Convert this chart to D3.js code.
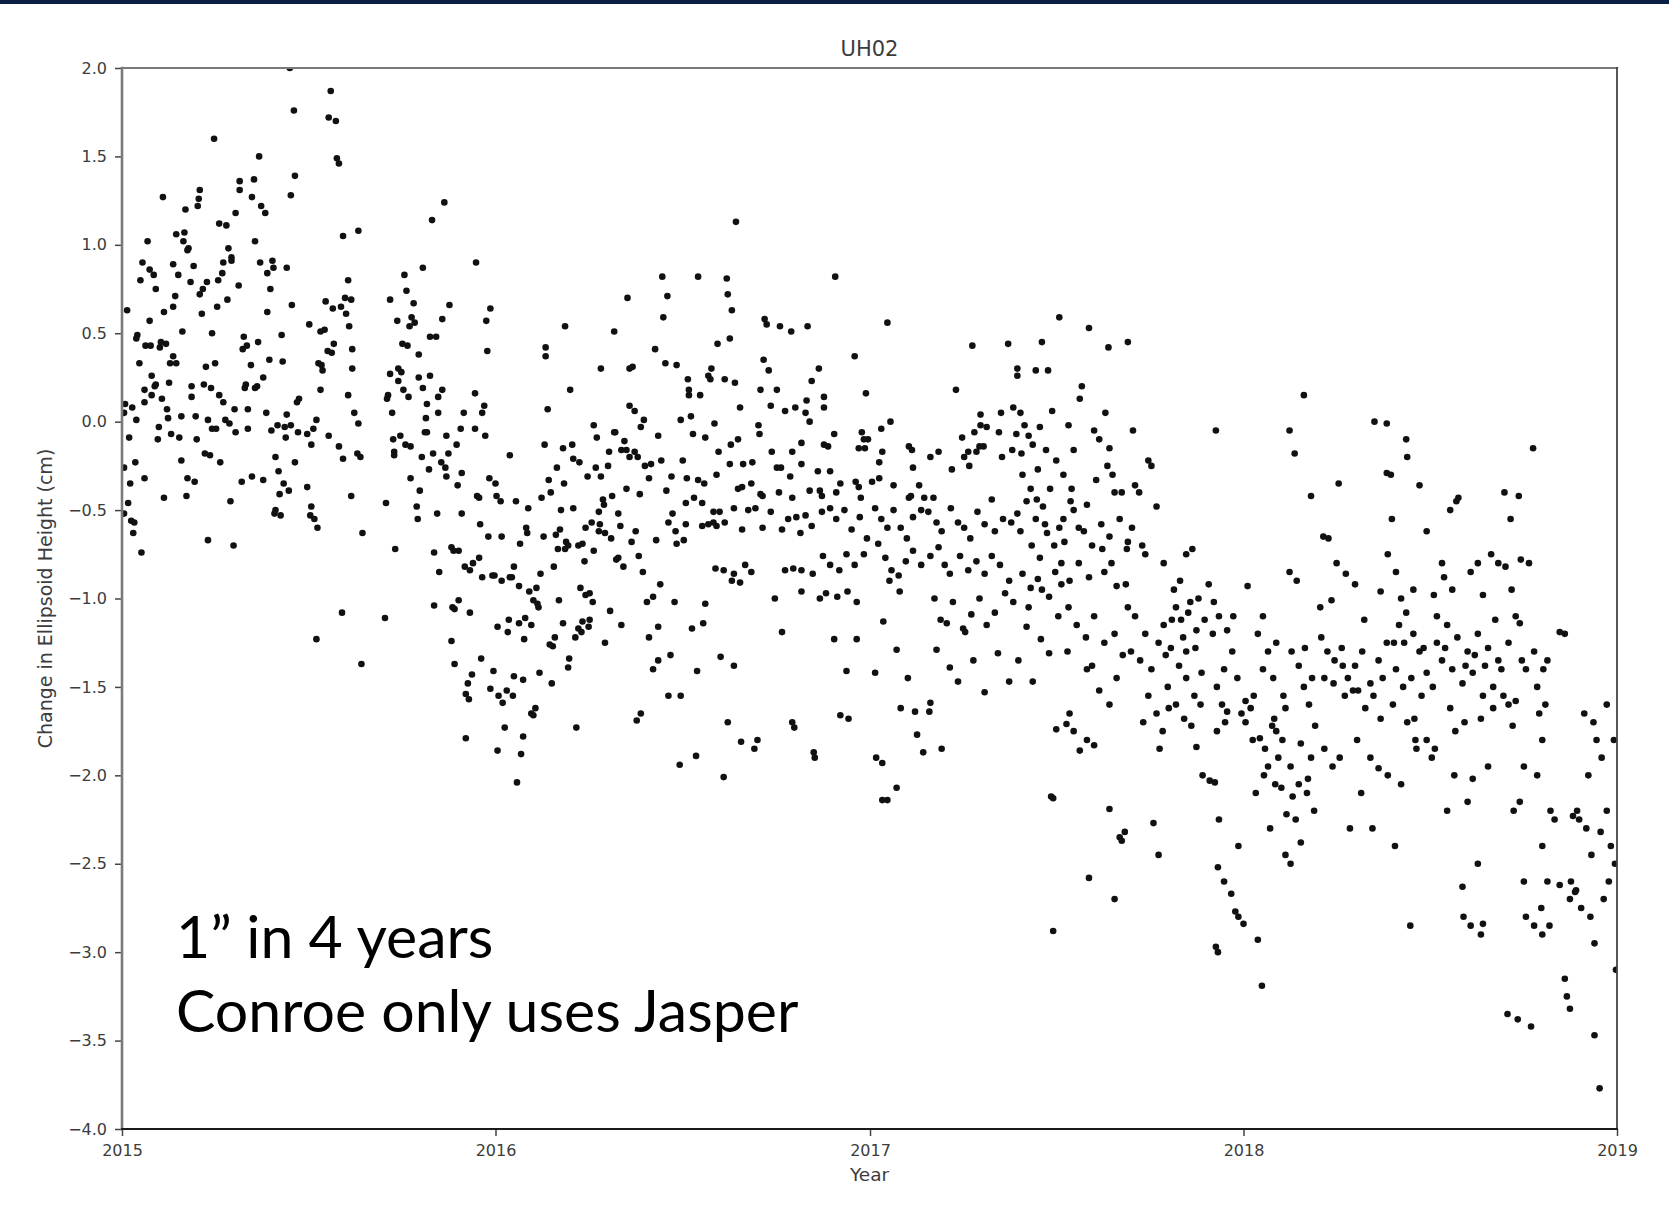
<!DOCTYPE html>
<html>
<head>
<meta charset="utf-8">
<script src="https://cdn.jsdelivr.net/npm/d3@7"></script>
<style>
  body { margin: 0; background: #fff; }
  svg { display: block; }
</style>
</head>
<body>
<svg id="chart" width="1669" height="1212"></svg>
<script>
// tick values
const yTicks = [2.0, 1.5, 1.0, 0.5, 0.0, -0.5, -1.0, -1.5, -2.0, -2.5, -3.0, -3.5, -4.0];
const xTickYears = [2015, 2016, 2017, 2018, 2019];

// observations: [days since 2015-01-01, change in height (cm)]
const upper2015 = [[164,2.00],[204,1.87],[168,1.76],[202,1.72],[209,1.70],[90,1.60],[210,1.49],[212,1.46],[134,1.50],[169,1.39],[115,1.36],[129,1.37],[115,1.31],[76,1.31],[165,1.28],[40,1.27],[75,1.26],[127,1.27],[74,1.22],[136,1.22],[62,1.20],[140,1.18],[111,1.18],[95,1.12],[102,1.11],[231,1.08],[216,1.05],[25,1.02],[53,1.06],[61,1.07],[60,1.02],[130,1.02],[65,0.98],[64,0.97],[104,0.98],[107,0.93],[107,0.91],[99,0.90],[135,0.90],[147,0.91],[148,0.87],[142,0.84],[161,0.87],[20,0.90],[27,0.86],[31,0.83],[50,0.89],[55,0.83],[70,0.88],[98,0.84],[18,0.80],[94,0.80],[83,0.79],[67,0.79],[79,0.75],[76,0.72],[33,0.75],[52,0.71],[114,0.77],[145,0.75],[221,0.80],[276,0.83],[278,0.74],[103,0.69],[93,0.65],[50,0.65],[41,0.62],[5,0.63],[78,0.61],[142,0.62],[166,0.66],[199,0.68],[206,0.64],[214,0.65],[218,0.70],[224,0.69],[219,0.61],[222,0.54],[262,0.69],[285,0.67],[269,0.57],[283,0.59],[286,0.56],[281,0.54],[27,0.57],[183,0.55],[194,0.51],[198,0.52],[59,0.51],[88,0.50],[119,0.48],[156,0.49],[15,0.49],[14,0.47],[23,0.43],[28,0.43],[38,0.45],[43,0.44],[37,0.42],[118,0.41],[122,0.43],[133,0.45],[207,0.44],[201,0.40],[205,0.39],[225,0.41],[274,0.44],[279,0.43],[290,0.38],[50,0.37],[17,0.33],[47,0.33],[53,0.33],[82,0.31],[91,0.33],[126,0.32],[144,0.35],[157,0.34],[192,0.33],[195,0.32],[196,0.29],[225,0.30],[262,0.27],[270,0.30],[273,0.28],[29,0.26],[138,0.25],[290,0.25]];

const lower2015 = [[22,0.18],[33,0.21],[32,0.20],[46,0.22],[29,0.15],[22,0.11],[39,0.13],[68,0.20],[68,0.14],[80,0.21],[87,0.19],[95,0.15],[99,0.11],[121,0.21],[120,0.19],[130,0.19],[132,0.20],[194,0.18],[221,0.15],[173,0.13],[171,0.11],[260,0.15],[259,0.13],[275,0.18],[280,0.14],[270,0.23],[3,0.10],[2,0.05],[10,0.08],[14,0.01],[7,-0.09],[44,0.07],[45,0.02],[36,-0.03],[35,-0.10],[48,-0.07],[58,0.03],[56,-0.09],[72,0.03],[73,-0.10],[84,0.01],[88,-0.04],[92,-0.04],[101,0.01],[105,-0.01],[111,-0.06],[110,0.07],[123,0.07],[123,-0.04],[141,0.05],[146,-0.05],[152,-0.02],[159,-0.03],[161,0.04],[165,-0.02],[160,-0.09],[172,-0.06],[181,-0.07],[187,-0.04],[190,0.01],[185,-0.13],[202,-0.08],[212,-0.14],[216,-0.21],[227,0.05],[231,-0.01],[230,-0.18],[233,-0.20],[264,0.05],[265,-0.10],[272,-0.08],[277,-0.13],[282,-0.14],[266,-0.17],[266,-0.19],[2,-0.26],[13,-0.23],[8,-0.35],[22,-0.32],[6,-0.46],[2,-0.52],[9,-0.56],[12,-0.57],[11,-0.63],[19,-0.74],[41,-0.43],[58,-0.22],[64,-0.32],[71,-0.34],[63,-0.42],[81,-0.18],[86,-0.19],[96,-0.23],[84,-0.67],[106,-0.45],[109,-0.70],[117,-0.34],[127,-0.31],[138,-0.33],[150,-0.20],[153,-0.28],[158,-0.35],[163,-0.39],[154,-0.41],[150,-0.50],[149,-0.52],[155,-0.53],[169,-0.23],[181,-0.37],[185,-0.48],[184,-0.53],[188,-0.55],[191,-0.60],[224,-0.42],[235,-0.63],[258,-0.46],[282,-0.32],[291,-0.39],[288,-0.48],[289,-0.55],[267,-0.72],[215,-1.08],[257,-1.11],[190,-1.23],[234,-1.37]];

const upperLate2015 = [[315,1.24],[303,1.14],[294,0.87],[346,0.90],[320,0.66],[360,0.64],[313,0.58],[356,0.57],[301,0.48],[307,0.48],[357,0.40],[301,0.26],[294,0.19],[313,0.18],[309,0.14],[345,0.16],[298,0.10],[354,0.09],[309,0.05],[334,0.05],[352,0.05],[297,0.02],[296,-0.06],[298,-0.06],[317,-0.08],[331,-0.04],[345,-0.04],[355,-0.08],[327,-0.13],[293,-0.20],[304,-0.18],[319,-0.18],[312,-0.23],[316,-0.26],[300,-0.27],[317,-0.31],[332,-0.29],[379,-0.19],[359,-0.32],[414,0.42],[414,0.37],[433,0.54],[468,0.30],[481,0.51],[494,0.70],[528,0.82],[533,0.71],[529,0.59],[563,0.82],[521,0.41],[496,0.30],[499,0.31],[531,0.33],[542,0.32],[582,0.44],[576,0.30],[573,0.26],[575,0.24],[553,0.24],[554,0.18],[554,0.15],[565,0.15],[438,0.18],[416,0.07],[496,0.09],[501,0.06],[510,0.01],[507,-0.03],[546,0.01],[556,0.03],[579,-0.01],[461,-0.02],[464,-0.09],[481,-0.06],[482,-0.06],[491,-0.11],[488,-0.16],[493,-0.16],[501,-0.17],[496,-0.20],[504,-0.20],[476,-0.17],[524,-0.08],[570,-0.09],[558,-0.07],[527,-0.22],[548,-0.22],[583,-0.17],[413,-0.13],[431,-0.15],[440,-0.13],[441,-0.21],[447,-0.23],[425,-0.26],[463,-0.26],[475,-0.25],[511,-0.25],[517,-0.24],[455,-0.31],[468,-0.31],[515,-0.32],[537,-0.31],[552,-0.32],[581,-0.30],[417,-0.33],[563,-0.33]];

const lower2016a = [[365,-0.35],[432,-0.35],[569,-0.35],[328,-0.36],[308,-0.52],[332,-0.52],[347,-0.42],[349,-0.43],[366,-0.42],[370,-0.45],[385,-0.45],[397,-0.49],[410,-0.43],[419,-0.40],[429,-0.50],[441,-0.49],[350,-0.58],[358,-0.65],[371,-0.65],[395,-0.60],[396,-0.63],[389,-0.69],[412,-0.65],[424,-0.64],[428,-0.61],[426,-0.72],[434,-0.68],[436,-0.70],[433,-0.72],[446,-0.70],[450,-0.69],[461,-0.73],[452,-0.79],[453,-0.60],[459,-0.57],[466,-0.51],[467,-0.58],[466,-0.62],[470,-0.44],[471,-0.47],[479,-0.42],[472,-0.63],[478,-0.66],[485,-0.52],[487,-0.59],[493,-0.38],[506,-0.41],[502,-0.62],[498,-0.68],[483,-0.78],[485,-0.77],[490,-0.82],[505,-0.76],[509,-0.85],[532,-0.39],[551,-0.46],[559,-0.43],[567,-0.46],[578,-0.51],[538,-0.52],[534,-0.57],[551,-0.58],[541,-0.62],[567,-0.59],[573,-0.58],[578,-0.57],[581,-0.59],[522,-0.67],[542,-0.69],[549,-0.67],[580,-0.83],[526,-0.92],[519,-0.99],[513,-1.02],[540,-1.02],[570,-1.03],[524,-1.16],[515,-1.22],[557,-1.17],[568,-1.14],[536,-1.32],[524,-1.35],[519,-1.40],[562,-1.41],[534,-1.55],[546,-1.55],[507,-1.65],[503,-1.69],[561,-1.89],[545,-1.94],[305,-0.74],[310,-0.85],[305,-1.04],[322,-0.71],[324,-0.73],[329,-0.73],[335,-0.82],[340,-0.84],[343,-0.80],[349,-0.77],[352,-0.88],[362,-0.87],[364,-0.87],[371,-0.90],[379,-0.88],[381,-0.88],[383,-0.82],[388,-0.93],[398,-0.96],[405,-0.94],[402,-1.01],[406,-1.03],[407,-1.05],[409,-0.86],[422,-0.82],[427,-1.01],[448,-0.94],[453,-0.98],[457,-0.97],[460,-1.02],[477,-1.07],[488,-1.15],[472,-1.25],[329,-1.01],[323,-1.05],[325,-1.06],[340,-1.08],[322,-1.24],[325,-1.37],[367,-1.16],[378,-1.12],[377,-1.19],[388,-1.14],[394,-1.11],[400,-1.15],[393,-1.23],[431,-1.14],[423,-1.22],[418,-1.26],[421,-1.27],[443,-1.22],[446,-1.17],[449,-1.19],[450,-1.13],[456,-1.16],[457,-1.12],[437,-1.34],[436,-1.39],[351,-1.34],[342,-1.43],[338,-1.48],[336,-1.54],[339,-1.57],[363,-1.41],[360,-1.51],[368,-1.55],[376,-1.52],[382,-1.55],[372,-1.59],[383,-1.44],[392,-1.46],[408,-1.42],[420,-1.48],[400,-1.65],[404,-1.62],[402,-1.66],[374,-1.73],[392,-1.78],[444,-1.73],[336,-1.79],[367,-1.86],[390,-1.88],[386,-2.04]];

const upper2016b = [[600,1.13],[591,0.81],[592,0.72],[596,0.63],[594,0.47],[628,0.58],[630,0.55],[643,0.54],[654,0.51],[670,0.54],[697,0.82],[748,0.56],[716,0.37],[627,0.35],[632,0.29],[681,0.30],[674,0.23],[589,0.24],[599,0.22],[624,0.18],[640,0.18],[634,0.09],[648,0.06],[658,0.08],[669,0.12],[668,0.05],[672,0.00],[686,0.14],[686,0.08],[604,0.08],[727,0.16],[751,0.00],[742,-0.04],[723,-0.06],[725,-0.10],[729,-0.10],[720,-0.15],[726,-0.15],[743,-0.17],[740,-0.23],[696,-0.07],[686,-0.13],[690,-0.14],[664,-0.12],[655,-0.17],[635,-0.17],[622,-0.02],[623,-0.07],[602,-0.10],[595,-0.13],[594,-0.24],[607,-0.24],[616,-0.23],[640,-0.26],[644,-0.26],[664,-0.24],[653,-0.31],[680,-0.28],[692,-0.28],[702,-0.35],[717,-0.34],[720,-0.37],[733,-0.34],[740,-0.32],[754,-0.36],[602,-0.38],[606,-0.37],[615,-0.35],[624,-0.41],[626,-0.42],[642,-0.40],[655,-0.43],[672,-0.39],[682,-0.39],[684,-0.42],[698,-0.40],[722,-0.43],[769,-0.14],[772,-0.16],[773,-0.26],[779,-0.36],[790,-0.20],[798,-0.17],[811,-0.27],[815,0.18],[821,-0.09],[831,0.43],[823,-0.20],[827,-0.17],[828,-0.25],[833,-0.06],[835,-0.17],[838,-0.14],[842,-0.14],[839,0.04],[839,-0.02],[845,-0.03],[857,-0.06],[859,0.05],[866,0.44],[871,0.08],[874,-0.07],[870,-0.16],[860,-0.20],[875,0.30],[875,0.26],[769,-0.43],[771,-0.42],[784,-0.43],[793,-0.43],[850,-0.44]];

const lower2016b = [[584,-0.51],[598,-0.49],[612,-0.50],[619,-0.49],[589,-0.57],[606,-0.61],[626,-0.60],[588,-0.84],[598,-0.86],[609,-0.81],[615,-0.85],[596,-0.90],[604,-0.91],[585,-1.33],[598,-1.38],[592,-1.70],[605,-1.81],[618,-1.85],[621,-1.80],[588,-2.01],[634,-0.51],[645,-0.61],[651,-0.55],[659,-0.54],[663,-0.63],[668,-0.53],[674,-0.59],[648,-0.84],[656,-0.83],[664,-0.84],[675,-0.86],[645,-1.19],[638,-1.00],[664,-0.96],[682,-1.00],[655,-1.70],[657,-1.73],[676,-1.87],[677,-1.90],[684,-0.51],[692,-0.49],[698,-0.55],[706,-0.50],[713,-0.61],[721,-0.54],[728,-0.66],[685,-0.76],[692,-0.81],[701,-0.84],[708,-0.75],[716,-0.81],[725,-0.75],[688,-0.97],[699,-0.99],[709,-0.96],[718,-1.02],[696,-1.23],[708,-1.41],[702,-1.66],[710,-1.68],[718,-1.23],[736,-0.49],[742,-0.55],[748,-0.60],[754,-0.50],[761,-0.60],[767,-0.66],[773,-0.54],[781,-0.50],[739,-0.69],[746,-0.77],[752,-0.84],[759,-0.87],[766,-0.79],[773,-0.73],[781,-0.81],[750,-0.90],[760,-0.96],[744,-1.13],[757,-1.29],[737,-1.90],[743,-1.93],[743,-2.14],[748,-2.14],[757,-2.07],[768,-1.45],[775,-1.64],[777,-1.77],[761,-1.62],[736,-1.42],[788,-0.51],[796,-0.57],[801,-0.62],[810,-0.49],[817,-0.57],[823,-0.60],[829,-0.66],[836,-0.51],[843,-0.58],[853,-0.62],[861,-0.55],[869,-0.57],[790,-0.76],[798,-0.71],[804,-0.81],[809,-0.86],[819,-0.76],[827,-0.84],[835,-0.79],[843,-0.86],[850,-0.76],[858,-0.81],[867,-0.90],[794,-1.00],[800,-1.12],[806,-1.14],[812,-1.02],[822,-1.17],[830,-1.09],[838,-1.00],[845,-1.15],[853,-1.08],[863,-0.97],[871,-1.02],[796,-1.29],[809,-1.39],[817,-1.47],[832,-1.35],[843,-1.53],[856,-1.31],[867,-1.47],[783,-1.87],[789,-1.64],[790,-1.59],[801,-1.85],[824,-1.19]];

const late2017 = [[893,0.29],[905,0.29],[899,0.45],[878,0.05],[882,-0.02],[886,-0.08],[890,-0.13],[897,-0.03],[903,-0.16],[909,0.06],[913,-0.22],[880,-0.30],[888,-0.38],[895,-0.27],[875,-0.52],[884,-0.45],[893,-0.55],[900,-0.48],[907,-0.38],[916,-0.60],[878,-0.62],[889,-0.70],[897,-0.77],[904,-0.63],[912,-0.85],[880,-0.86],[888,-0.94],[895,-0.89],[906,-0.99],[918,-0.92],[884,-1.16],[898,-1.23],[915,-1.10],[876,-1.35],[890,-1.47],[906,-1.31],[924,-1.30],[908,-2.12],[910,-2.13],[910,-2.88],[916,0.59],[945,0.53],[964,0.42],[983,0.45],[938,0.20],[936,0.13],[961,0.05],[950,-0.05],[955,-0.10],[965,-0.15],[963,-0.25],[968,-0.30],[970,-0.40],[925,-0.02],[930,-0.16],[920,-0.30],[927,-0.45],[920,-0.55],[930,-0.50],[940,-0.62],[948,-0.70],[957,-0.58],[965,-0.65],[975,-0.55],[982,-0.72],[935,-0.80],[945,-0.88],[960,-0.85],[972,-0.93],[925,-1.05],[933,-1.15],[942,-1.22],[950,-1.10],[960,-1.25],[970,-1.20],[978,-1.32],[943,-1.40],[948,-1.38],[955,-1.52],[965,-1.60],[972,-1.45],[913,-1.74],[923,-1.71],[926,-1.65],[930,-1.75],[936,-1.86],[943,-1.80],[950,-1.83],[965,-2.19],[975,-2.35],[977,-2.37],[980,-2.32],[945,-2.58],[970,-2.70],[988,-0.05],[1003,-0.22],[1006,-0.25],[990,-0.36],[994,-0.40],[1011,-0.48],[987,-0.60],[983,-0.68],[997,-0.70],[1000,-0.75],[1018,-0.80],[1040,-0.75],[1046,-0.72],[983,-1.05],[990,-1.10],[1018,-1.15],[1000,-1.20],[1013,-1.25],[986,-1.30],[995,-1.35],[1006,-1.40],[1022,-1.50],[1003,-1.55],[1011,-1.65],[998,-1.70],[1017,-1.75],[1014,-1.85],[1030,-1.05],[1035,-1.12],[1042,-1.08],[1050,-1.18],[1025,-1.28],[1033,-1.38],[1040,-1.45],[1048,-1.55],[1055,-1.42],[1030,-1.60],[1038,-1.68],[1045,-1.72],[1013,-2.45],[1008,-2.27],[1034,-0.90],[1028,-0.95],[1052,-1.00],[1058,-1.12],[1040,-1.30],[1069,-0.05],[1062,-0.92],[1067,-1.02],[1072,-1.10],[1066,-1.20],[1080,-1.18],[1085,-1.30],[1077,-1.40],[1070,-1.50],[1090,-1.45],[1075,-1.60],[1080,-1.64],[1070,-1.75],[1078,-1.70],[1094,-1.65],[1098,-1.58],[1056,-2.00],[1063,-2.03],[1068,-2.04],[1072,-2.25],[1071,-2.52],[1069,-2.97],[1071,-3.00],[1077,-2.60],[1084,-2.67],[1088,-2.77],[1091,-2.80],
  [879,-0.18],[894,-0.44],[902,-0.58],[911,-0.70],[921,-0.68],[928,-0.38],[935,-0.60],[943,-0.47],[952,-0.33],[958,-0.72],[967,-0.80],[977,-0.40],[981,-0.92],[918,-0.80],[926,-0.90],[886,-1.05],[899,-0.95],[1020,-1.32],[1026,-1.12],[1037,-1.22],[1044,-1.02],[1049,-1.28],[1054,-1.60],[1086,-1.10],[1050,-1.84],[1023,-1.62]];

const early2018 = [[1096,-2.84],[1110,-2.93],[1114,-3.19],[1100,-0.93],[1110,-1.20],[1115,-1.40],[1103,-1.62],[1124,-1.72],[1105,-1.80],[1112,-1.79],[1128,-1.75],[1130,-1.90],[1116,-2.00],[1133,-2.07],[1138,-2.22],[1147,-2.25],[1137,-2.45],[1142,-2.50],[1091,-2.40],[1141,-0.05],[1146,-0.18],[1155,0.15],[1162,-0.42],[1141,-0.85],[1148,-0.90],[1143,-1.30],[1155,-1.50],[1160,-1.60],[1162,-1.90],[1158,-2.10],[1165,-2.20],[1120,-1.30],[1125,-1.45],[1135,-1.55],[1150,-1.38],[1120,-1.95],[1108,-2.10],[1122,-2.30],[1152,-2.38],[1128,-1.25],[1137,-1.62],
  [1098,-1.70],[1106,-1.55],[1117,-1.85],[1126,-1.68],[1134,-1.80],[1142,-1.95],[1152,-1.82],[1156,-1.28],[1159,-2.02],[1163,-1.45],[1166,-1.72],[1127,-2.05],[1144,-2.12],[1150,-2.05],[1115,-1.10]];

const late2018 = [[1189,-0.35],[1174,-0.65],[1179,-0.66],[1187,-0.80],[1196,-0.86],[1205,-0.92],[1182,-1.01],[1172,-1.22],[1178,-1.30],[1185,-1.35],[1192,-1.28],[1198,-1.45],[1205,-1.38],[1212,-1.30],[1220,-1.48],[1228,-1.35],[1236,-1.25],[1175,-1.45],[1195,-1.55],[1208,-1.52],[1207,-1.80],[1220,-1.90],[1228,-1.96],[1237,-2.00],[1211,-2.10],[1200,-2.30],[1222,-2.30],[1175,-1.85],[1183,-1.95],[1190,-1.90],[1215,-1.62],[1230,-1.68],[1224,0.00],[1236,-0.01],[1236,-0.29],[1240,-0.30],[1255,-0.10],[1256,-0.20],[1268,-0.36],[1241,-0.55],[1237,-0.75],[1230,-0.96],[1245,-0.85],[1250,-1.00],[1248,-1.15],[1255,-1.08],[1262,-1.20],[1268,-1.30],[1245,-1.40],[1252,-1.50],[1260,-1.45],[1270,-1.55],[1275,-1.42],[1242,-1.60],[1256,-1.70],[1244,-2.40],[1250,-2.05],[1265,-1.85],[1275,-1.80],[1304,-0.45],[1298,-0.50],[1306,-0.43],[1275,-0.62],[1290,-0.80],[1282,-0.98],[1300,-0.95],[1318,-0.85],[1325,-0.80],[1285,-1.10],[1295,-1.15],[1305,-1.22],[1315,-1.30],[1325,-1.20],[1335,-1.28],[1345,-1.35],[1290,-1.35],[1300,-1.40],[1310,-1.48],[1320,-1.42],[1330,-1.55],[1340,-1.50],[1348,-1.40],[1285,-1.25],[1298,-1.62],[1312,-1.70],[1328,-1.68],[1340,-1.62],[1264,-1.80],[1283,-1.85],[1280,-1.90],[1295,-2.20],[1315,-2.15],[1325,-2.50],[1310,-2.63],[1311,-2.80],[1318,-2.85],[1328,-2.90],[1259,-2.85],[1330,-2.84],[1302,-2.00],[1320,-2.02],[1335,-1.95],[1351,-0.40],[1357,-0.55],[1365,-0.42],[1338,-0.75],[1345,-0.80],[1352,-0.82],[1362,-1.10],[1366,-1.14],[1355,-1.25],[1372,-1.40],[1355,-1.60],[1362,-1.58],[1360,-2.20],[1366,-2.15],[1370,-2.60],[1372,-2.80],[1380,-2.85],[1354,-3.35],[1364,-3.38],[1377,-3.42],[1379,-0.15],[1375,-0.80],[1380,-1.30],[1385,-1.65],[1370,-1.95],[1410,-1.20],[1393,-1.35],[1389,-1.40],[1383,-1.50],[1391,-1.60],[1388,-1.80],[1383,-2.00],[1396,-2.20],[1388,-2.40],[1393,-2.60],[1387,-2.75],[1395,-2.85],[1388,-2.90],[1410,-3.15],[1412,-3.25],[1415,-3.32],[1405,-1.19],[1400,-2.25],[1405,-2.62],[1415,-2.70],[1420,-2.66],[1422,-2.20],[1418,-2.23],[1429,-1.65],[1438,-1.70],[1451,-1.60],[1441,-1.80],[1446,-1.90],[1424,-2.25],[1431,-2.30],[1436,-2.45],[1416,-2.60],[1421,-2.65],[1426,-2.75],[1435,-2.80],[1439,-2.95],[1439,-3.47],[1444,-3.77],[1451,-2.20],[1455,-2.40],[1453,-2.60],[1448,-2.70],[1460,-3.10],[1458,-1.80],[1459,-2.50],[1433,-2.00],[1445,-2.32],
  [1171,-1.05],[1184,-1.48],[1193,-1.38],[1203,-1.52],[1214,-1.12],[1223,-1.55],[1232,-1.45],[1243,-1.25],[1253,-1.25],[1263,-1.68],[1272,-1.28],[1281,-1.50],[1293,-1.28],[1303,-1.75],[1313,-1.38],[1322,-1.32],[1332,-1.38],[1342,-1.12],[1350,-1.55],[1359,-1.72],[1368,-1.35],[1262,-0.95],[1292,-0.88],[1330,-0.98],[1358,-0.95],[1367,-0.78]];

const notes = ["1\u201d in 4 years", "Conroe only uses Jasper"];

const allObs = [].concat(upper2015, lower2015, upperLate2015, lower2016a,
                         upper2016b, lower2016b, late2017, early2018, late2018);

/*******************************************************************************
                                Layout
*******************************************************************************/
const plot = {left: 122, right: 1617, top: 68, bottom: 1129};
const t0 = Date.UTC(2015, 0, 1);
const dayToDate = d => new Date(t0 + d * 864e5);

const x = d3.scaleUtc()
  .domain([new Date(t0), new Date(Date.UTC(2019, 0, 1))])
  .range([plot.left, plot.right]);
const y = d3.scaleLinear().domain([-4, 2]).range([plot.bottom, plot.top]);

const svg = d3.select("#chart");
const font = "'DejaVu Sans', sans-serif";
const textCol = "#3c3c3c";

// navy strip along the top of the slide
svg.append("rect").attr("x", 0).attr("y", 0).attr("width", 1669).attr("height", 4)
   .attr("fill", "#0b1f45");

svg.append("clipPath").attr("id", "plotClip").append("rect")
   .attr("x", plot.left).attr("y", plot.top)
   .attr("width", plot.right - plot.left).attr("height", plot.bottom - plot.top);

// points
svg.append("g").attr("clip-path", "url(#plotClip)")
   .selectAll("circle").data(allObs).enter()
   .append("circle")
   .attr("cx", d => x(dayToDate(d[0])))
   .attr("cy", d => y(d[1]))
   .attr("r", 3.3)
   .attr("fill", "#111");

// axes
const yAxis = d3.axisLeft(y).tickValues(yTicks).tickSize(7).tickPadding(8)
  .tickFormat(d3.format(".1f"));
const xAxis = d3.axisBottom(x)
  .tickValues(xTickYears.map(yr => new Date(Date.UTC(yr, 0, 1))))
  .tickSize(7).tickPadding(9).tickFormat(d3.utcFormat("%Y"));

const gy = svg.append("g").attr("transform", `translate(${plot.left},0)`).call(yAxis);
const gx = svg.append("g").attr("transform", `translate(0,${plot.bottom})`).call(xAxis);
[gx, gy].forEach(g => {
  g.select(".domain").remove();
  g.selectAll(".tick line").attr("stroke", "#444").attr("stroke-width", 1.5);
  g.selectAll(".tick text").attr("fill", textCol)
   .style("font-family", font).style("font-size", "16px");
});

// spines
const spines = [
  {x1: plot.left, y1: plot.top, x2: plot.right, y2: plot.top, c: "#7a7a7a", w: 2.2},
  {x1: plot.left, y1: plot.top, x2: plot.left, y2: plot.bottom, c: "#7a7a7a", w: 2.6},
  {x1: plot.right, y1: plot.top, x2: plot.right, y2: plot.bottom, c: "#444", w: 1.8},
  {x1: plot.left, y1: plot.bottom, x2: plot.right, y2: plot.bottom, c: "#1a1a1a", w: 1.8}
];
svg.append("g").selectAll("line").data(spines).enter().append("line")
   .attr("x1", d => d.x1).attr("y1", d => d.y1)
   .attr("x2", d => d.x2).attr("y2", d => d.y2)
   .attr("stroke", d => d.c).attr("stroke-width", d => d.w)
   .attr("stroke-linecap", "square");

// title and axis labels
svg.append("text").attr("x", (plot.left + plot.right) / 2).attr("y", 56)
   .attr("text-anchor", "middle").attr("fill", textCol)
   .style("font-family", font).style("font-size", "21px").text("UH02");

svg.append("text").attr("x", (plot.left + plot.right) / 2).attr("y", 1181)
   .attr("text-anchor", "middle").attr("fill", textCol)
   .style("font-family", font).style("font-size", "18.5px").text("Year");

svg.append("text")
   .attr("transform", `translate(52,${(plot.top + plot.bottom) / 2}) rotate(-90)`)
   .attr("text-anchor", "middle").attr("fill", textCol)
   .style("font-family", font).style("font-size", "19px")
   .text("Change in Ellipsoid Height (cm)");

// annotation
svg.append("g").selectAll("text").data(notes).enter().append("text")
   .attr("x", 176).attr("y", (d, i) => 958 + i * 74)
   .attr("fill", "#000")
   .style("font-family", "Lato, 'Open Sans', sans-serif").style("font-size", "59px")
   .text(d => d);
</script>
</body>
</html>
